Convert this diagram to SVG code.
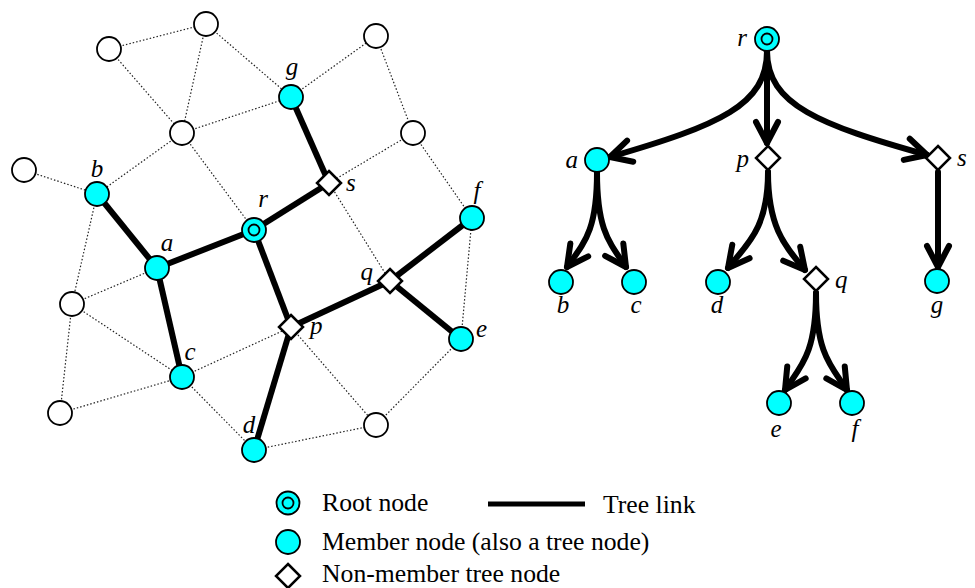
<svg xmlns="http://www.w3.org/2000/svg" width="975" height="588" viewBox="0 0 975 588">
<defs>
<style>
.dot{stroke:#222;stroke-width:1.2;stroke-dasharray:1.5,2;fill:none}
.thick{stroke:#000;stroke-width:6;fill:none;stroke-linecap:butt}
.arr{stroke:#000;stroke-width:6;fill:none;stroke-linecap:round;marker-end:url(#chev)}
.w{fill:#fff;stroke:#000;stroke-width:1.8}
.m{fill:#00ffff;stroke:#000;stroke-width:1.8}
.dia{fill:#fff;stroke:#000;stroke-width:2.5}
.lbl{font-family:"Liberation Serif","Times New Roman",serif;font-style:italic;font-size:25px;fill:#000}
.leg{font-family:"Liberation Serif","Times New Roman",serif;font-size:25.7px;fill:#000}
</style>
<marker id="chev" markerUnits="userSpaceOnUse" orient="auto" refX="0" refY="0" markerWidth="40" markerHeight="40" overflow="visible">
<path d="M-21,-11 L0,0 L-21,11" fill="none" stroke="#000" stroke-width="6" stroke-linecap="round" stroke-linejoin="round"/>
</marker>
<circle id="member" r="12" class="m"/>
<circle id="white" r="12" class="w"/>
<polygon id="diamond" points="0,-12 12,0 0,12 -12,0" class="dia"/>
</defs>

<g id="connectors">
<line class="dot" x1="109" y1="49" x2="206" y2="24"/>
<line class="dot" x1="109" y1="49" x2="182" y2="133"/>
<line class="dot" x1="206" y1="24" x2="182" y2="133"/>
<line class="dot" x1="206" y1="24" x2="291" y2="97"/>
<line class="dot" x1="182" y1="133" x2="291" y2="97"/>
<line class="dot" x1="182" y1="133" x2="97" y2="194"/>
<line class="dot" x1="182" y1="133" x2="254" y2="230"/>
<line class="dot" x1="24" y1="170" x2="97" y2="194"/>
<line class="dot" x1="97" y1="194" x2="72" y2="304"/>
<line class="dot" x1="291" y1="97" x2="376" y2="36"/>
<line class="dot" x1="376" y1="36" x2="413" y2="133"/>
<line class="dot" x1="413" y1="133" x2="329" y2="183"/>
<line class="dot" x1="413" y1="133" x2="472" y2="218"/>
<line class="dot" x1="329" y1="183" x2="390" y2="281"/>
<line class="dot" x1="157" y1="268" x2="72" y2="304"/>
<line class="dot" x1="72" y1="304" x2="182" y2="377"/>
<line class="dot" x1="72" y1="304" x2="60" y2="413"/>
<line class="dot" x1="60" y1="413" x2="182" y2="377"/>
<line class="dot" x1="182" y1="377" x2="254" y2="450"/>
<line class="dot" x1="182" y1="377" x2="291" y2="327"/>
<line class="dot" x1="291" y1="327" x2="376" y2="425"/>
<line class="dot" x1="254" y1="450" x2="376" y2="425"/>
<line class="dot" x1="376" y1="425" x2="461" y2="339"/>
<line class="dot" x1="461" y1="339" x2="472" y2="218"/>
<line class="thick" x1="97" y1="194" x2="157" y2="268"/>
<line class="thick" x1="157" y1="268" x2="254" y2="230"/>
<line class="thick" x1="157" y1="268" x2="182" y2="377"/>
<line class="thick" x1="254" y1="230" x2="329" y2="183"/>
<line class="thick" x1="329" y1="183" x2="291" y2="97"/>
<line class="thick" x1="254" y1="230" x2="291" y2="327"/>
<line class="thick" x1="291" y1="327" x2="254" y2="450"/>
<line class="thick" x1="291" y1="327" x2="390" y2="281"/>
<line class="thick" x1="390" y1="281" x2="472" y2="218"/>
<line class="thick" x1="390" y1="281" x2="461" y2="339"/>
<path class="arr" d="M767,51 C767,105 720,125 610,157"/>
<path class="arr" d="M767,51 L767,143"/>
<path class="arr" d="M767,51 C767,105 820,125 927,155"/>
<path class="arr" d="M597,172 C597,230 585,242 567,267"/>
<path class="arr" d="M597,172 C597,230 609,242 626,267"/>
<path class="arr" d="M768,172 C768,230 746,245 728,268"/>
<path class="arr" d="M768,172 C768,230 787,248 805,270"/>
<path class="arr" d="M938,172 L938,267"/>
<path class="arr" d="M816,293 C816,355 800,367 785,390"/>
<path class="arr" d="M816,293 C816,355 832,367 847,390"/>
<line x1="488" y1="504" x2="585" y2="504" stroke="#000" stroke-width="5"/>
</g>

<g id="n-w1"><use href="#white" x="206" y="24"/></g>
<g id="n-w2"><use href="#white" x="109" y="49"/></g>
<g id="n-w3"><use href="#white" x="182" y="133"/></g>
<g id="n-w4"><use href="#white" x="24" y="170"/></g>
<g id="n-w5"><use href="#white" x="376" y="36"/></g>
<g id="n-w6"><use href="#white" x="413" y="133"/></g>
<g id="n-w7"><use href="#white" x="72" y="304"/></g>
<g id="n-w8"><use href="#white" x="60" y="413"/></g>
<g id="n-w9"><use href="#white" x="376" y="425"/></g>
<g id="n-b"><use href="#member" x="97" y="194"/><text class="lbl" x="97" y="177" text-anchor="middle">b</text></g>
<g id="n-g"><use href="#member" x="291" y="97"/><text class="lbl" x="292" y="75" text-anchor="middle">g</text></g>
<g id="n-r"><circle cx="254" cy="230" r="12" class="m"/><circle cx="254" cy="230" r="5.5" class="m"/><text class="lbl" x="263" y="207" text-anchor="middle">r</text></g>
<g id="n-a"><use href="#member" x="157" y="268"/><text class="lbl" x="167" y="251" text-anchor="middle">a</text></g>
<g id="n-c"><use href="#member" x="182" y="377"/><text class="lbl" x="190" y="360" text-anchor="middle">c</text></g>
<g id="n-d"><use href="#member" x="254" y="450"/><text class="lbl" x="249" y="433" text-anchor="middle">d</text></g>
<g id="n-e"><use href="#member" x="461" y="339"/><text class="lbl" x="476" y="337">e</text></g>
<g id="n-f"><use href="#member" x="472" y="218"/><text class="lbl" x="477" y="199" text-anchor="middle">f</text></g>
<g id="n-s"><use href="#diamond" x="329" y="183"/><text class="lbl" x="346" y="191">s</text></g>
<g id="n-q"><use href="#diamond" x="390" y="281"/><text class="lbl" x="373" y="280" text-anchor="end">q</text></g>
<g id="n-p"><use href="#diamond" x="291" y="327"/><text class="lbl" x="310" y="334">p</text></g>

<g id="t-r"><circle cx="767" cy="39" r="12" class="m"/><circle cx="767" cy="39" r="5.5" class="m"/><text class="lbl" x="747" y="46" text-anchor="end">r</text></g>
<g id="t-a"><use href="#member" x="597" y="160"/><text class="lbl" x="578" y="168" text-anchor="end">a</text></g>
<g id="t-p"><use href="#diamond" x="768" y="158"/><text class="lbl" x="749" y="167" text-anchor="end">p</text></g>
<g id="t-s"><use href="#diamond" x="938" y="158"/><text class="lbl" x="957" y="166">s</text></g>
<g id="t-b"><use href="#member" x="561" y="282"/><text class="lbl" x="563" y="313" text-anchor="middle">b</text></g>
<g id="t-c"><use href="#member" x="634" y="282"/><text class="lbl" x="636" y="313" text-anchor="middle">c</text></g>
<g id="t-d"><use href="#member" x="718" y="282"/><text class="lbl" x="717" y="313" text-anchor="middle">d</text></g>
<g id="t-q"><use href="#diamond" x="816" y="279"/><text class="lbl" x="835" y="288">q</text></g>
<g id="t-g"><use href="#member" x="937" y="281"/><text class="lbl" x="937" y="313" text-anchor="middle">g</text></g>
<g id="t-e"><use href="#member" x="779" y="403"/><text class="lbl" x="776" y="437" text-anchor="middle">e</text></g>
<g id="t-f"><use href="#member" x="852" y="403"/><text class="lbl" x="855" y="437" text-anchor="middle">f</text></g>

<g id="legend">
<circle cx="288" cy="503" r="11.5" class="m"/><circle cx="288" cy="503" r="5.5" class="m"/>
<text class="leg" x="322" y="511">Root node</text>
<text class="leg" x="603" y="513">Tree link</text>
<use href="#member" x="288" y="542"/>
<text class="leg" x="322" y="550">Member node (also a tree node)</text>
<use href="#diamond" x="288" y="576"/>
<text class="leg" x="322" y="582">Non-member tree node</text>
</g>
</svg>
